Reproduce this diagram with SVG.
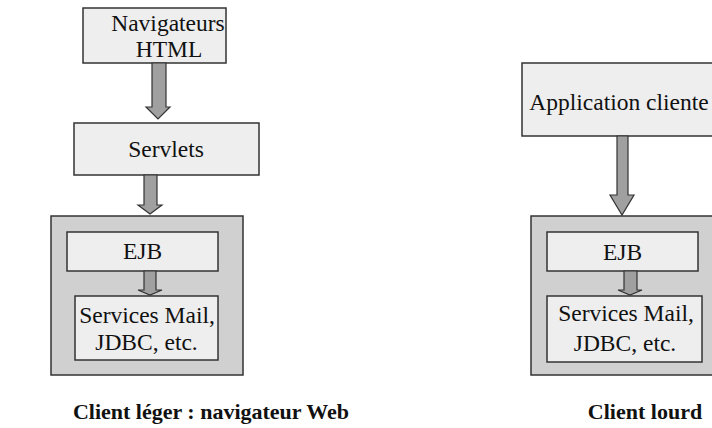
<svg xmlns="http://www.w3.org/2000/svg" width="712" height="428" viewBox="0 0 712 428">
<style>
.box{fill:#eeeeee;stroke:#333333;stroke-width:1.5}
.outer{fill:#d0d0d0;stroke:#333333;stroke-width:1.5}
.arr{fill:#a0a0a0;stroke:#333333;stroke-width:1.2;stroke-linejoin:miter}
.t{font-family:"Liberation Serif","Times New Roman",serif;font-size:23.5px;fill:#111;text-anchor:middle}
.cap{font-family:"Liberation Serif","Times New Roman",serif;font-size:22px;font-weight:bold;fill:#111;text-anchor:middle}
</style>
<rect width="712" height="428" fill="#ffffff"/>
<g id="outer-left"><rect class="outer" x="51" y="216" width="192" height="159"/></g>
<g id="outer-right"><rect class="outer" x="531" y="216" width="190" height="159"/></g>
<g id="navigateurs"><rect class="box" x="83" y="8" width="143" height="55"/><text class="t" x="168" y="31">Navigateurs</text><text class="t" x="169" y="57">HTML</text></g>
<g id="servlets"><rect class="box" x="74" y="123" width="185" height="52"/><text class="t" x="166" y="157">Servlets</text></g>
<g id="ejb-left"><rect class="box" x="67" y="232" width="151" height="39"/><text class="t" x="142.5" y="259">EJB</text></g>
<g id="services-left"><rect class="box" x="75" y="296" width="143" height="64"/><text class="t" x="147" y="323">Services Mail,</text><text class="t" x="146.5" y="350">JDBC, etc.</text></g>
<g id="application"><rect class="box" x="522" y="63" width="200" height="73"/><text class="t" x="619" y="110">Application cliente</text></g>
<g id="ejb-right"><rect class="box" x="547" y="232" width="151" height="39"/><text class="t" x="622.5" y="260">EJB</text></g>
<g id="services-right"><rect class="box" x="547" y="296" width="155" height="66"/><text class="t" x="626" y="321">Services Mail,</text><text class="t" x="625" y="351">JDBC, etc.</text></g>
<g id="connectors">
<polygon class="arr" points="152,63 166,63 166,107 170,107 158,119 146,107 152,107"/>
<polygon class="arr" points="144,175 157,175 157,205 162,205 150,214 138,205 144,205"/>
<polygon class="arr" points="144,271 156,271 156,290 162,290 150,295 138,290 144,290"/>
<polygon class="arr" points="617,136 628,136 628,195 634,195 622,215 610,195 617,195"/>
<polygon class="arr" points="624,271 637,271 637,290 642,290 630,295 618,290 624,290"/>
</g>
<text class="cap" x="211" y="419">Client léger : navigateur Web</text>
<text class="cap" x="645" y="419">Client lourd</text>
</svg>
